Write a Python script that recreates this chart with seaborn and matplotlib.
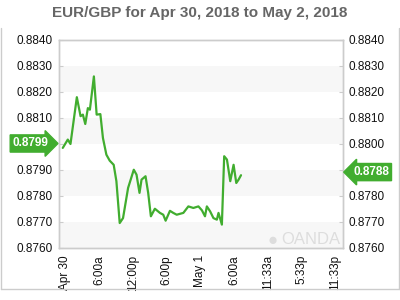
import matplotlib
matplotlib.use("Agg")
import matplotlib.pyplot as plt
import matplotlib.lines as mlines
import seaborn as sns
import pandas as pd

# ---- data (hours since Apr 30 00:00, EUR/GBP rate) ----
hours = [-0.48, 0.41, 0.89, 2.02, 2.68, 3.09, 3.52, 3.98, 4.34, 5.05, 5.54, 6.20,
         6.66, 7.27, 7.86, 8.57, 9.05, 9.64, 10.23, 11.13, 12.14, 12.63, 13.16,
         13.52, 14.23, 14.70, 15.18, 15.89, 16.79, 17.38, 17.80, 18.57, 19.16,
         19.77, 20.95, 21.84, 22.73, 23.63, 24.25, 24.80, 25.13, 25.71, 26.30,
         26.91, 27.20, 27.80, 28.21, 28.70, 29.29, 29.88, 30.36, 30.77, 31.20]
rates = [0.87985, 0.88017, 0.88000, 0.88180, 0.88107, 0.88113, 0.88077, 0.88138,
         0.88132, 0.88260, 0.88113, 0.88115, 0.88023, 0.87959, 0.87936, 0.87920,
         0.87857, 0.87696, 0.87715, 0.87831, 0.87901, 0.87882, 0.87812, 0.87863,
         0.87876, 0.87812, 0.87722, 0.87751, 0.87735, 0.87728, 0.87705, 0.87743,
         0.87735, 0.87728, 0.87735, 0.87760, 0.87754, 0.87760, 0.87745, 0.87722,
         0.87760, 0.87741, 0.87715, 0.87709, 0.87735, 0.87690, 0.87953, 0.87940,
         0.87857, 0.87920, 0.87850, 0.87863, 0.87880]
tick_hours = [0, 6, 12, 18, 24, 30, 36, 42, 48]
tick_labels = ["Apr 30", "6:00a", "12:00p", "6:00p", "May 1", "6:00a",
               "11:33a", "5:33p", "11:33p"]
y_ticks = [0.8760, 0.8770, 0.8780, 0.8790, 0.8800, 0.8810, 0.8820, 0.8830, 0.8840]
bands = [(0.8760, 0.8770), (0.8780, 0.8790), (0.8800, 0.8810), (0.8820, 0.8830)]
start_label = "0.8799"
end_label = "0.8788"
title = "EUR/GBP for Apr 30, 2018 to May 2, 2018"

GREEN = "#41ad2f"
GRID = "#cccccc"
FONT = "Liberation Sans"

sns.set_style("white")
plt.rcParams["font.family"] = [FONT, "DejaVu Sans"]

fig = plt.figure(figsize=(4, 3), dpi=100)
ax = fig.add_axes([58.5 / 400, 1 - 248 / 300, 284 / 400, 208 / 300])

for lo, hi in bands:
    ax.axhspan(lo, hi, color="#f7f7f7", lw=0, zorder=0)

df = pd.DataFrame({"hour": hours, "rate": rates})
sns.lineplot(data=df, x="hour", y="rate", ax=ax, color=GREEN, lw=1.6,
             estimator=None, sort=False, zorder=3)

ax.set_xlim(-1.24, 49.24)
ax.set_ylim(0.8760, 0.8840)
ax.set_xticks(tick_hours)
ax.set_xticklabels(tick_labels, rotation=90, fontsize=8.5, color="#111111")
ax.set_yticks(y_ticks)
# labels hidden behind the value badges are left blank
ax.set_yticklabels(["" if f"{v:.4f}" == "0.8800" else f"{v:.4f}" for v in y_ticks],
                   fontsize=8.5, color="#111111")
ax.tick_params(axis="y", direction="in", length=3, color=GRID, pad=4)
ax.tick_params(axis="x", direction="in", length=3, color=GRID, pad=5)
ax.set_xlabel("")
ax.set_ylabel("")
for s in ax.spines.values():
    s.set_color(GRID)
    s.set_linewidth(1)

ax2 = ax.twinx()
ax2.set_ylim(ax.get_ylim())
ax2.set_yticks(y_ticks)
ax2.set_yticklabels(["" if f"{v:.4f}" == "0.8790" else f"{v:.4f}" for v in y_ticks],
                    fontsize=8.5, color="#111111")
ax2.tick_params(axis="y", direction="in", length=3, color=GRID, pad=4)
for s in ax2.spines.values():
    s.set_color(GRID)
    s.set_linewidth(1)

# badges
ax2.annotate(start_label, xy=(0, 0.88002), xycoords=("axes fraction", "data"),
             xytext=(-20, 0), textcoords="offset points", ha="center", va="center",
             fontsize=8.5, fontweight="bold", color="white",
             bbox=dict(boxstyle="rarrow,pad=0.22", fc=GREEN, ec=GREEN), annotation_clip=False)
ax2.annotate(end_label, xy=(1, 0.87892), xycoords=("axes fraction", "data"),
             xytext=(20.5, 0), textcoords="offset points", ha="center", va="center",
             fontsize=8.5, fontweight="bold", color="white",
             bbox=dict(boxstyle="larrow,pad=0.22", fc=GREEN, ec=GREEN), annotation_clip=False)

# logo
fig.text(273 / 400, 1 - 240 / 300, "\u25cf", fontsize=12, color="#dddddd", ha="center", va="center")
fig.text(311 / 400, 1 - 240 / 300, "OANDA", fontsize=12, color="#dddddd", ha="center", va="center")

# title
fig.text(0.5, 1 - 13 / 300, title, ha="center", va="center", fontsize=11,
         fontweight="bold", color="#666666")

# outer frame (open on top)
for xs, ys in [([0.5 / 400, 0.5 / 400], [1 - 28 / 300, 1 - 289 / 300]),
               ([398.5 / 400, 398.5 / 400], [1 - 28 / 300, 1 - 289 / 300]),
               ([0.5 / 400, 398.5 / 400], [1 - 289 / 300, 1 - 289 / 300])]:
    fig.add_artist(mlines.Line2D(xs, ys, color="#cccccc", lw=1))

fig.savefig("out.png", dpi=100)
